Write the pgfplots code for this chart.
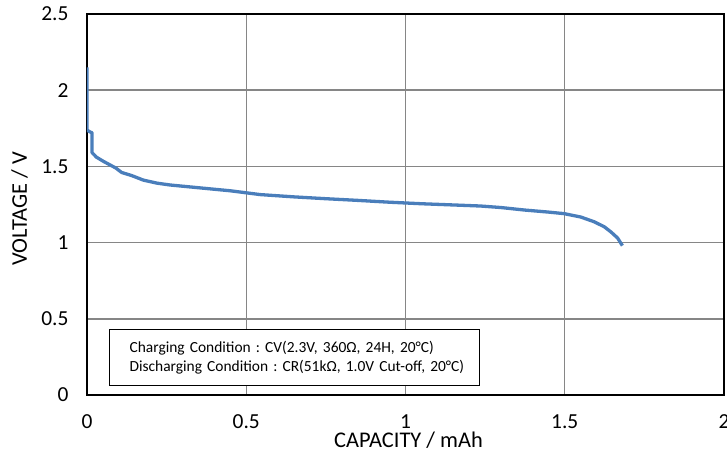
\documentclass[border=0pt]{standalone}
\usepackage{pgfplots}
\pgfplotsset{compat=1.18}
\usepackage{fontspec}
\setmainfont{Carlito}
\definecolor{curve}{HTML}{4A7EBB}
\definecolor{gridgray}{HTML}{868686}
\begin{document}
\frenchspacing
\begin{tikzpicture}
\begin{axis}[
  name=ax,
  scale only axis,
  width=637bp, height=381bp,
  xmin=0, xmax=2, ymin=0, ymax=2.5,
  xtick={0,0.5,1,1.5,2},
  ytick={0,0.5,1,1.5,2,2.5},
  grid=major,
  major grid style={gridgray, line width=1.4bp},
  axis line style={black, line width=1.6bp},
  major tick length=0pt,
  tick label style={font=\fontsize{21.5}{25}\selectfont},
  /pgf/number format/assume math mode=true,
  yticklabel style={xshift=-15bp},
  xticklabel style={yshift=-16bp},
  xlabel={CAPACITY / mAh},
  ylabel={VOLTAGE / V},
  label style={font=\fontsize{22.5}{26}\selectfont},
  xlabel style={at={(axis description cs:0.5,0)}, anchor=base, yshift=-52bp, xshift=3bp},
  ylabel style={at={(axis description cs:0,0.5)}, anchor=base, yshift=60bp, xshift=-4.5bp},
]
\addplot[curve, line width=3.3bp, line join=round] coordinates {
(0,2.15)
(0,1.74)
(0.006,1.73)
(0.016,1.72)
(0.016,1.59)
(0.03,1.56)
(0.05,1.535)
(0.072,1.51)
(0.09,1.49)
(0.109,1.46)
(0.14,1.44)
(0.177,1.41)
(0.22,1.39)
(0.261,1.378)
(0.35,1.36)
(0.45,1.34)
(0.544,1.315)
(0.65,1.30)
(0.75,1.288)
(0.85,1.277)
(0.95,1.265)
(1.05,1.255)
(1.15,1.247)
(1.236,1.240)
(1.30,1.230)
(1.372,1.214)
(1.45,1.20)
(1.498,1.19)
(1.55,1.168)
(1.592,1.137)
(1.624,1.104)
(1.645,1.07)
(1.666,1.03)
(1.672,1.01)
(1.681,0.98)
};
\end{axis}
% condition box, placed relative to the axis box (1 px = 1 bp)
\node[draw=black, line width=1.2bp, fill=white, anchor=north west,
      minimum width=370bp, minimum height=56bp, inner sep=0pt,
      text width=370bp, align=left, font=\fontsize{15.5}{19.5}\selectfont]
  at ([xshift=22bp, yshift=-(329-14)*1bp]ax.north west)
  {\hspace*{20bp}Charging Condition : CV(2.3V, 360Ω, 24H, 20°C)\\
   \hspace*{20bp}Discharging Condition : CR(51kΩ, 1.0V Cut-off, 20°C)};
\pgfresetboundingbox
\path[use as bounding box] ([xshift=-87bp, yshift=-59bp]ax.south west)
  rectangle ([xshift=3bp, yshift=14bp]ax.north east);
\end{tikzpicture}
\end{document}
